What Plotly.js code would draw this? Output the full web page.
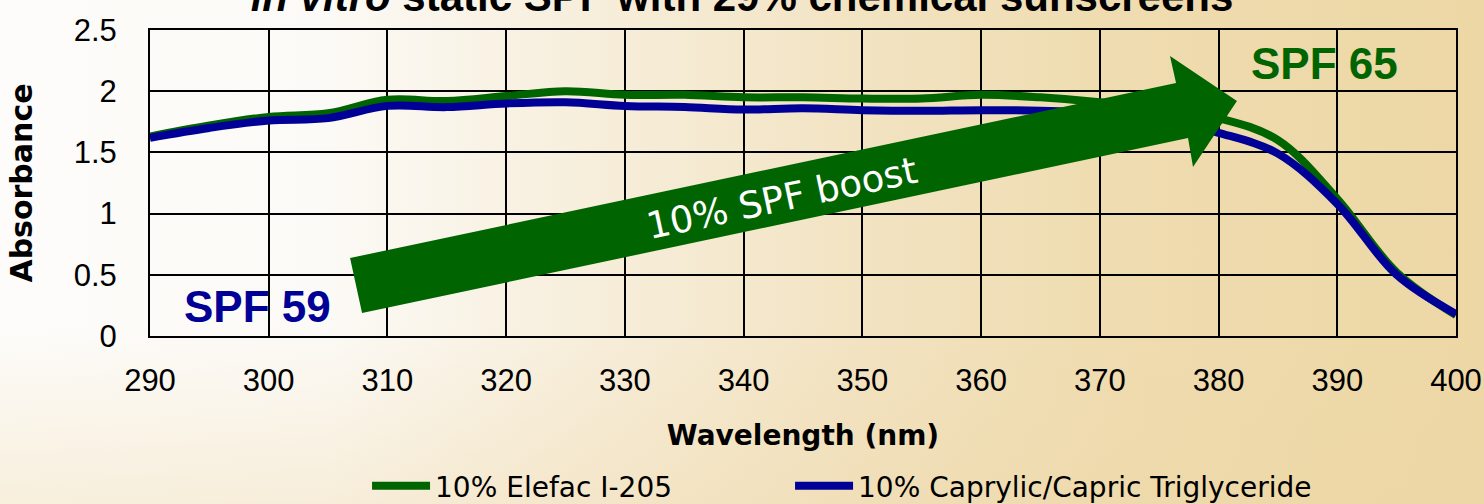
<!DOCTYPE html>
<html>
<head>
<meta charset="utf-8">
<script src="https://cdn.plot.ly/plotly-3.0.1.min.js"></script>
<style>
  html, body { margin: 0; padding: 0; }
  body {
    width: 1484px; height: 504px; overflow: hidden;
    background:
      linear-gradient(to bottom, rgba(255,255,255,0) 65%, rgba(238,214,165,0.35) 100%),
      linear-gradient(to right, #fdfcfa 0%, #fcfaf6 22%, #f7eedb 40%, #f2e3c2 58%, #efdcb0 75%, #edd7a5 100%);
  }
  #chart { width: 1484px; height: 504px; }
</style>
</head>
<body>
<div id="chart"></div>
<script>
// ---- data ----
const wavelength = [290,295,300,305,310,315,320,325,330,335,340,345,350,355,360,365,370,375,380,385,390,395,400];
const elefac = [1.63,1.72,1.79,1.82,1.93,1.92,1.96,2.00,1.97,1.97,1.95,1.95,1.94,1.94,1.97,1.95,1.91,1.85,1.78,1.60,1.12,0.52,0.17];
const caprylic = [1.62,1.70,1.76,1.78,1.88,1.87,1.90,1.91,1.88,1.87,1.85,1.86,1.845,1.84,1.845,1.84,1.82,1.77,1.66,1.49,1.08,0.50,0.18];
const seriesNames = ["10% Elefac I-205", "10% Caprylic/Capric Triglyceride"];
const xTicks = [290,300,310,320,330,340,350,360,370,380,390,400];
const yTicks = [0,0.5,1,1.5,2,2.5];
const yTickText = ["0","0.5","1","1.5","2","2.5"];
const titleText = "<i>in vitro</i> static SPF with 29% chemical sunscreens";
const spfLabels = ["SPF 59", "SPF 65"];
const boostText = "10% SPF boost";

const GREEN = "#006400";
const BLUE = "#000096";
const GEO = "DejaVu Sans, Verdana, sans-serif";
const ARIAL = "Liberation Sans, Arial, sans-serif";

const traces = [
  { x: wavelength, y: elefac, name: seriesNames[0], type: "scatter", mode: "lines",
    legendwidth: 350,
    line: { color: GREEN, width: 8, shape: "spline", smoothing: 1 } },
  { x: wavelength, y: caprylic, name: seriesNames[1], type: "scatter", mode: "lines",
    line: { color: BLUE, width: 8, shape: "spline", smoothing: 1 } }
];

const layout = {
  width: 1484, height: 504,
  paper_bgcolor: "rgba(0,0,0,0)",
  plot_bgcolor: "rgba(0,0,0,0)",
  margin: { l: 150, r: 28, t: 30, b: 168 },
  showlegend: true,
  title: {
    text: titleText,
    font: { family: ARIAL, size: 42, color: "#000", weight: "bold" },
    xref: "container", x: 0.5, xanchor: "center",
    yref: "paper", y: 1, yanchor: "bottom",
    pad: { b: 19 }
  },
  xaxis: {
    range: [290, 400], tickvals: xTicks, ticktext: xTicks.map(String),
    showgrid: true, gridcolor: "#000", gridwidth: 2,
    showline: true, mirror: true, linecolor: "#000", linewidth: 2,
    zeroline: false, ticks: "", ticklabelstandoff: 16,
    tickfont: { family: ARIAL, size: 31, color: "#000" },
    title: { text: "Wavelength (nm)", font: { family: GEO, size: 28, color: "#000", weight: "bold" }, standoff: 28 },
    fixedrange: true
  },
  yaxis: {
    range: [0, 2.5], tickvals: yTicks, ticktext: yTickText,
    showgrid: true, gridcolor: "#000", gridwidth: 2,
    showline: true, mirror: true, linecolor: "#000", linewidth: 2,
    zeroline: false, ticks: "", ticklabelstandoff: 25,
    tickfont: { family: ARIAL, size: 31, color: "#000" },
    title: { text: "Absorbance", font: { family: GEO, size: 30, color: "#000", weight: "bold" }, standoff: 32 },
    fixedrange: true
  },
  legend: {
    orientation: "h", xref: "paper", yref: "container",
    x: 0.1662, xanchor: "left", y: 0.0357, yanchor: "middle",
    bgcolor: "rgba(0,0,0,0)", borderwidth: 0,
    font: { family: GEO, size: 28, color: "#000" },
    itemwidth: 58
  },
  shapes: [
    { type: "path", xref: "x", yref: "y", layer: "above",
      path: "M306.85,0.637 L376.42,2.067 L375.91,2.288 L381.55,1.920 L377.85,1.381 L377.43,1.618 L307.86,0.188 Z",
      fillcolor: GREEN, line: { width: 0 } }
  ],
  annotations: [
    { text: spfLabels[0], xref: "x", yref: "y", x: 299.05, y: 0.245, xanchor: "center", yanchor: "middle",
      showarrow: false, font: { family: ARIAL, size: 44, color: BLUE, weight: "bold" } },
    { text: spfLabels[1], xref: "x", yref: "y", x: 388.9, y: 2.226, xanchor: "center", yanchor: "middle",
      showarrow: false, font: { family: ARIAL, size: 44, color: GREEN, weight: "bold" } },
    { text: boostText, xref: "x", yref: "y", x: 343.2, y: 1.127, xanchor: "center", yanchor: "middle",
      textangle: -12, showarrow: false, font: { family: GEO, size: 37, color: "#ffffff" } }
  ]
};

Plotly.newPlot("chart", traces, layout, { displayModeBar: false, staticPlot: true });
</script>
</body>
</html>
